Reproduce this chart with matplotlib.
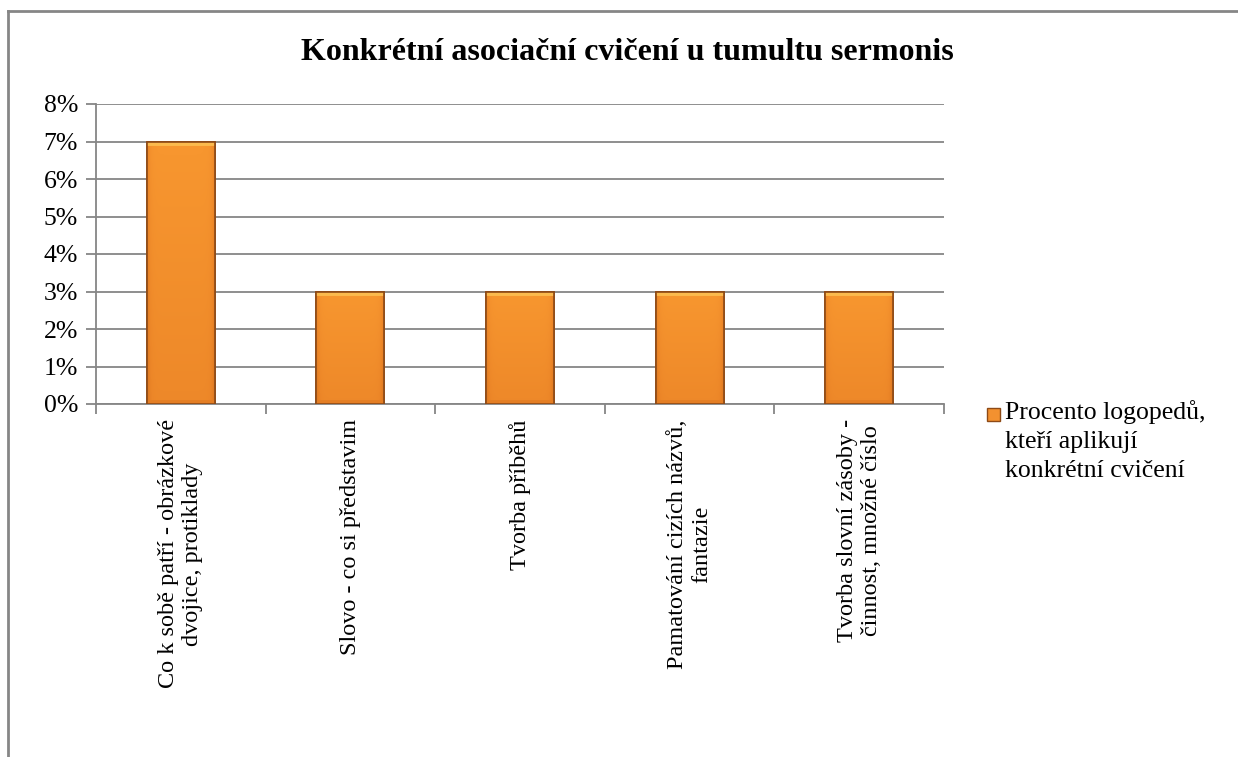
import matplotlib
matplotlib.use("Agg")
import matplotlib.pyplot as plt
from matplotlib.lines import Line2D
from matplotlib.patches import Rectangle
from matplotlib.colors import LinearSegmentedColormap
import numpy as np

plt.rcParams['font.family'] = ['Liberation Serif', 'DejaVu Serif']

categories = [
    'Co k sobě patří - obrázkové\ndvojice, protiklady',
    'Slovo - co si představim',
    'Tvorba příběhů',
    'Pamatování cizích názvů,\nfantazie',
    'Tvorba slovní zásoby -\nčinnost, množné číslo',
]
values = [7, 3, 3, 3, 3]
yticks = [0, 1, 2, 3, 4, 5, 6, 7, 8]
title = 'Konkrétní asociační cvičení u tumultu sermonis'
legend_label = 'Procento logopedů,\nkteří aplikují\nkonkrétní cvičení'

fig = plt.figure(figsize=(12.38, 7.57), dpi=100)
ax = fig.add_axes([96 / 1238, 1 - 404 / 757, (944 - 96) / 1238, (404 - 104) / 757])

x = np.arange(len(categories))
bars = ax.bar(x, values, width=0.4, color='#F39130', edgecolor='#8E4A16',
              linewidth=1.2, zorder=3)

# soft orange gradient inside each bar (slightly darker bottom and sides, light top rim)
cmap = LinearSegmentedColormap.from_list('o', ['#D9741F', '#EC8628', '#F7962F', '#FCC052'])
for b in bars:
    bx, by = b.get_x(), b.get_y()
    w, h = b.get_width(), b.get_height()
    npx = int(h * 38)
    gy = np.linspace(0, 1, npx)[:, None]
    gx = np.linspace(-1, 1, 68)[None, :]
    grad = 0.38 + 0.3 * gy - 0.35 * np.abs(gx) ** 12 + 0 * gx
    grad[-5:, :] = 0.95
    grad[:4, :] = 0.2
    im = ax.imshow(grad, cmap=cmap, vmin=0, vmax=1, origin='lower', aspect='auto',
                   extent=[bx, bx + w, by, by + h], zorder=3.5, interpolation='bilinear')
    im.set_clip_path(b)
    ax.add_patch(Rectangle((bx, by), w, h, fill=False, edgecolor='#8E4A16',
                           linewidth=1.2, zorder=4))

ax.set_xlim(-0.5, len(categories) - 0.5)
ax.set_ylim(0, 8)
ax.set_yticks(yticks)
ax.set_yticklabels([f'{v}%' for v in yticks], fontsize=18.5)
ax.yaxis.grid(True, color='#868686', linewidth=1.3, zorder=0)
ax.set_axisbelow(True)

ax.set_xticks(np.arange(len(categories) + 1) - 0.5)
ax.set_xticklabels([])
ax.set_xticks(x, minor=True)
ax.set_xticklabels(categories, minor=True, rotation=90, fontsize=17.5,
                   va='top', ha='center', multialignment='center')
ax.tick_params(axis='x', which='minor', length=0, pad=11)
ax.tick_params(axis='x', which='major', length=7, color='#868686', width=1.3)
ax.tick_params(axis='y', length=7, color='#868686', width=1.3, pad=6)

for s in ['top', 'right']:
    ax.spines[s].set_visible(False)
for s in ['left', 'bottom']:
    ax.spines[s].set_color('#868686')
    ax.spines[s].set_linewidth(1.3)

fig.text(627 / 1238, 1 - 53 / 757, title, fontsize=23, fontweight='bold',
         ha='center', va='center')

# legend
fig.patches.append(Rectangle((987 / 1238, 1 - 421 / 757), 13 / 1238, 13 / 757,
                             transform=fig.transFigure, facecolor='#F39130',
                             edgecolor='#8E4A16', linewidth=1))
fig.text(1005 / 1238, 1 - 400 / 757, legend_label, fontsize=18.5,
         ha='left', va='top', linespacing=1.4)

# outer frame (partially visible)
fig.add_artist(Line2D([8 / 1238, 8 / 1238], [0, 1 - 11 / 757],
                      transform=fig.transFigure, color='#868686', linewidth=2))
fig.add_artist(Line2D([8 / 1238, 1], [1 - 11 / 757, 1 - 11 / 757],
                      transform=fig.transFigure, color='#868686', linewidth=2))

fig.savefig('out.png', dpi=100)
